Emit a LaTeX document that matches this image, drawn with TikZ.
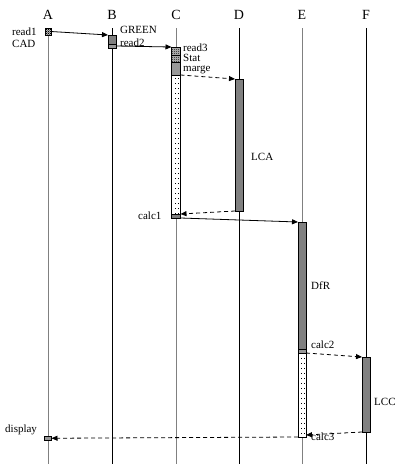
\documentclass[tikz,border=0pt]{standalone}
\usepackage{fontspec}
\setmainfont{Liberation Serif}
\usetikzlibrary{arrows.meta,patterns,calc}
\pgfdeclarepatternformonly{finecheck}{\pgfpointorigin}{\pgfqpoint{2pt}{2pt}}{\pgfqpoint{2pt}{2pt}}{%
  \pgfpathrectangle{\pgfpointorigin}{\pgfqpoint{1pt}{1pt}}%
  \pgfpathrectangle{\pgfqpoint{1pt}{1pt}}{\pgfqpoint{1pt}{1pt}}%
  \pgfusepath{fill}}
\pgfdeclarepatternformonly{sparsedots}{\pgfqpoint{-1pt}{-1pt}}{\pgfqpoint{1pt}{1pt}}{\pgfqpoint{3.5pt}{5pt}}{%
  \pgfpathrectangle{\pgfqpoint{-0.5pt}{-0.5pt}}{\pgfqpoint{1pt}{1pt}}%
  \pgfusepath{fill}}
\tikzset{
  life/.style={line width=0.9pt},
  lifeg/.style={line width=1pt, draw=black!50},
  act/.style={draw, line width=0.6pt, inner sep=0pt, outer sep=0pt, anchor=north, minimum width=8pt},
  dark/.style={act, fill=black!50},
  mid/.style={act, fill=black!40},
  checker/.style={act, preaction={fill=black!25}, pattern=finecheck, pattern color=black},
  dotbox/.style={act, preaction={fill=white}, pattern=sparsedots, pattern color=black},
  msg/.style={-{Triangle[length=6pt,width=5pt]}, line width=0.8pt},
  reply/.style={msg, dash pattern=on 4pt off 3pt},
  lbl/.style={font=\fontsize{11}{13}\selectfont, inner sep=0pt, anchor=base west},
  hdr/.style={font=\fontsize{14}{16}\selectfont, inner sep=0pt, anchor=base},
}
\begin{document}
\begin{tikzpicture}[x=1pt, y=-1pt]
\useasboundingbox (0,0) rectangle (396,464);
% headers
\node[hdr] (hA) at (48,19) {A};
\node[hdr] (hB) at (112,19) {B};
\node[hdr] (hC) at (176,19) {C};
\node[hdr] (hD) at (239,19) {D};
\node[hdr] (hE) at (302,19) {E};
\node[hdr] (hF) at (366,19) {F};
% lifelines
\coordinate (tA) at (48,28);  \coordinate (bA) at (48,464);
\coordinate (tB) at (112,28); \coordinate (bB) at (112,464);
\coordinate (tC) at (176,28); \coordinate (bC) at (176,464);
\coordinate (tD) at (239,28); \coordinate (bD) at (239,464);
\coordinate (tE) at (302,28); \coordinate (bE) at (302,464);
\coordinate (tF) at (366,28); \coordinate (bF) at (366,464);
\draw[lifeg] (tA) -- (bA);
\draw[life] (tB) -- (bB);
\draw[lifeg] (tC) -- (bC);
\draw[life] (tD) -- (bD);
\draw[lifeg] (tE) -- (bE);
\draw[life] (tF) -- (bF);
% activation boxes
\node[checker, minimum width=6pt, minimum height=7pt] (rA) at (48,28) {};
\node[dark, minimum height=9pt] (rB1) at (112,35) {};
\node[mid, minimum height=4pt] (rB2) at (112,44) {};
\node[checker, minimum width=9pt, minimum height=8pt] (read3) at (176,47) {};
\node[checker, minimum width=9pt, minimum height=7pt] (stat) at (176,55) {};
\node[mid, minimum width=9pt, minimum height=13pt] (marge) at (176,62) {};
\node[dotbox, minimum width=9pt, minimum height=139pt] (dot1) at (176,75) {};
\node[dark, minimum width=9pt, minimum height=4pt] (calc1) at (176,214) {};
\node[dark, minimum height=132pt] (lca) at (239,79) {};
\node[dark, minimum height=127pt] (dfr) at (302,222) {};
\node[mid, minimum height=4pt] (band2) at (302,349) {};
\node[dotbox, minimum height=84pt] (dot2) at (302,353) {};
\node[dark, minimum height=75pt] (lcc) at (366,357) {};
\node[mid, minimum width=7pt, minimum height=4.5pt] (disp) at (48,436) {};
% messages
\draw[msg] (rA.east) -- (rB1.north west);
\draw[msg] (rB2.east) -- (read3.north west);
\draw[reply] (marge.south east) -- (lca.north west);
\draw[reply] (lca.south west) -- (calc1.north east);
\draw[msg] (calc1.south east) -- (dfr.north west);
\draw[reply] (band2.south east) -- (lcc.north west);
\draw[reply] (lcc.south west) -- ($(dot2.south east)+(0,-2)$);
\draw[reply] (dot2.south west) -- (disp.east);
% labels
\node[lbl] (l1) at (12,35) {read1};
\node[lbl] (l2) at (12,47) {CAD};
\node[lbl] (l3) at (120,33) {GREEN};
\node[lbl] (l4) at (120,46) {read2};
\node[lbl] (l5) at (183,51) {read3};
\node[lbl] (l6) at (183,61.5) {Stat};
\node[lbl] (l7) at (183,71) {marge};
\node[lbl] (l8) at (251,160) {LCA};
\node[lbl] (l9) at (138,219) {calc1};
\node[lbl] (l10) at (311,289) {DfR};
\node[lbl] (l11) at (311,348) {calc2};
\node[lbl] (l12) at (374,405) {LCC};
\node[lbl] (l13) at (311,440) {calc3};
\node[lbl] (l14) at (5,432) {display};
\end{tikzpicture}
\end{document}
